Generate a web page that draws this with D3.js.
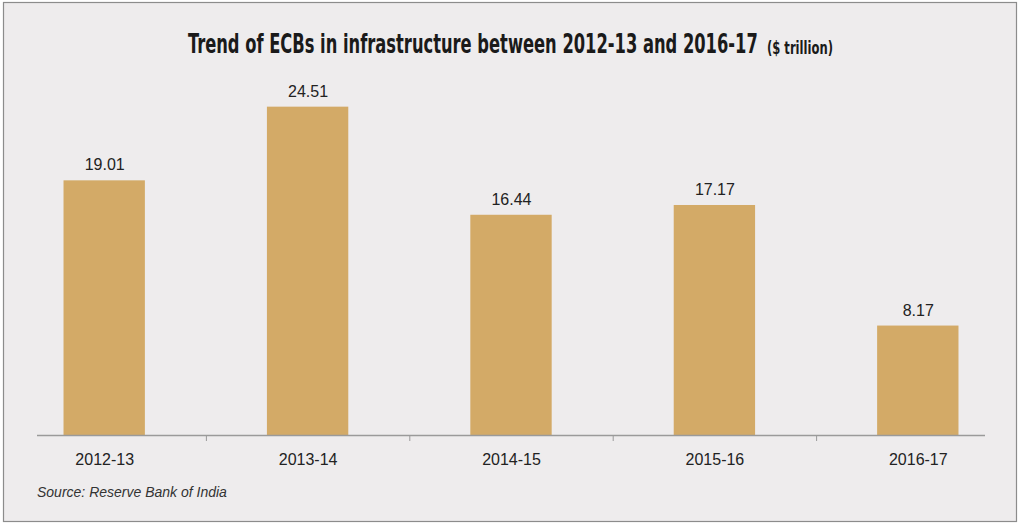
<!DOCTYPE html>
<html>
<head>
<meta charset="utf-8">
<script src="https://cdn.jsdelivr.net/npm/d3@7"></script>
<style>
  body { margin: 0; background: #ffffff; }
  svg { display: block; }
</style>
</head>
<body>
<svg id="chart" width="1024" height="526"></svg>
<script>
// Chart data
var categories = ["2012-13", "2013-14", "2014-15", "2015-16", "2016-17"];
var values = [19.01, 24.51, 16.44, 17.17, 8.17];
var valueLabels = ["19.01", "24.51", "16.44", "17.17", "8.17"];

var svg = d3.select("#chart");

// Panel frame
svg.append("rect")
    .attr("x", 3.5).attr("y", 2.5)
    .attr("width", 1013).attr("height", 519)
    .attr("fill", "#eeeced")
    .attr("stroke", "#8c8c8c")
    .attr("stroke-width", 1.2);

// Title: squeeze each part horizontally to the width it has in the picture
var titleFont = "'DejaVu Sans Condensed', 'DejaVu Sans', sans-serif";
function fitText(str, left, base, size, width) {
    var t = svg.append("text")
        .attr("x", 0)
        .attr("y", 0)
        .attr("fill", "#1a1a1a")
        .attr("font-size", size)
        .style("font-family", titleFont)
        .style("font-weight", "bold")
        .text(str);
    var natural = t.node().getComputedTextLength();
    var sx = width / natural;
    t.attr("transform", "translate(" + left + "," + base + ") scale(" + sx + ",1)");
    return t;
}
fitText("Trend of ECBs in infrastructure between 2012-13 and 2016-17", 188, 53, 26, 570);
fitText("($ trillion)", 767, 54, 17, 66);

// Scales
var x = d3.scaleBand()
    .domain(categories)
    .range([3, 1020])
    .paddingInner(0)
    .paddingOuter(0);

var y = d3.scaleLinear()
    .domain([0, 26.5])
    .range([435, 80]);

var barW = x.bandwidth() * 0.4;

// Bars
svg.selectAll("rect.bar")
    .data(values)
    .enter()
    .append("rect")
    .attr("class", "bar")
    .attr("x", function (d, i) { return x(categories[i]) + (x.bandwidth() - barW) / 2 - 0.5; })
    .attr("y", function (d) { return y(d); })
    .attr("width", barW)
    .attr("height", function (d) { return y(0) - y(d); })
    .attr("fill", "#d3aa67");

// Value labels
svg.selectAll("text.val")
    .data(values)
    .enter()
    .append("text")
    .attr("class", "val")
    .attr("x", function (d, i) { return x(categories[i]) + x.bandwidth() / 2; })
    .attr("y", function (d) { return y(d) - 10; })
    .attr("text-anchor", "middle")
    .attr("fill", "#222")
    .style("font-family", "'Liberation Sans', Arial, sans-serif")
    .style("font-size", "16px")
    .text(function (d, i) { return valueLabels[i]; });

// X axis line
svg.append("line")
    .attr("x1", 37).attr("x2", 985)
    .attr("y1", y(0) + 0.5).attr("y2", y(0) + 0.5)
    .attr("stroke", "#9a9a9a")
    .attr("stroke-width", 1.5);

// Ticks between categories
svg.selectAll("line.tick")
    .data(categories.slice(1))
    .enter()
    .append("line")
    .attr("class", "tick")
    .attr("x1", function (d) { return x(d); })
    .attr("x2", function (d) { return x(d); })
    .attr("y1", y(0) + 1)
    .attr("y2", y(0) + 6)
    .attr("stroke", "#9a9a9a")
    .attr("stroke-width", 1);

// Category labels
svg.selectAll("text.cat")
    .data(categories)
    .enter()
    .append("text")
    .attr("class", "cat")
    .attr("x", function (d) { return x(d) + x.bandwidth() / 2; })
    .attr("y", 465)
    .attr("text-anchor", "middle")
    .attr("fill", "#222")
    .style("font-family", "'Liberation Sans', Arial, sans-serif")
    .style("font-size", "16px")
    .text(function (d) { return d; });

// Source note
svg.append("text")
    .attr("x", 37)
    .attr("y", 497)
    .attr("fill", "#333")
    .style("font-family", "'Liberation Sans', Arial, sans-serif")
    .style("font-size", "14px")
    .style("font-style", "italic")
    .text("Source: Reserve Bank of India");
</script>
</body>
</html>
